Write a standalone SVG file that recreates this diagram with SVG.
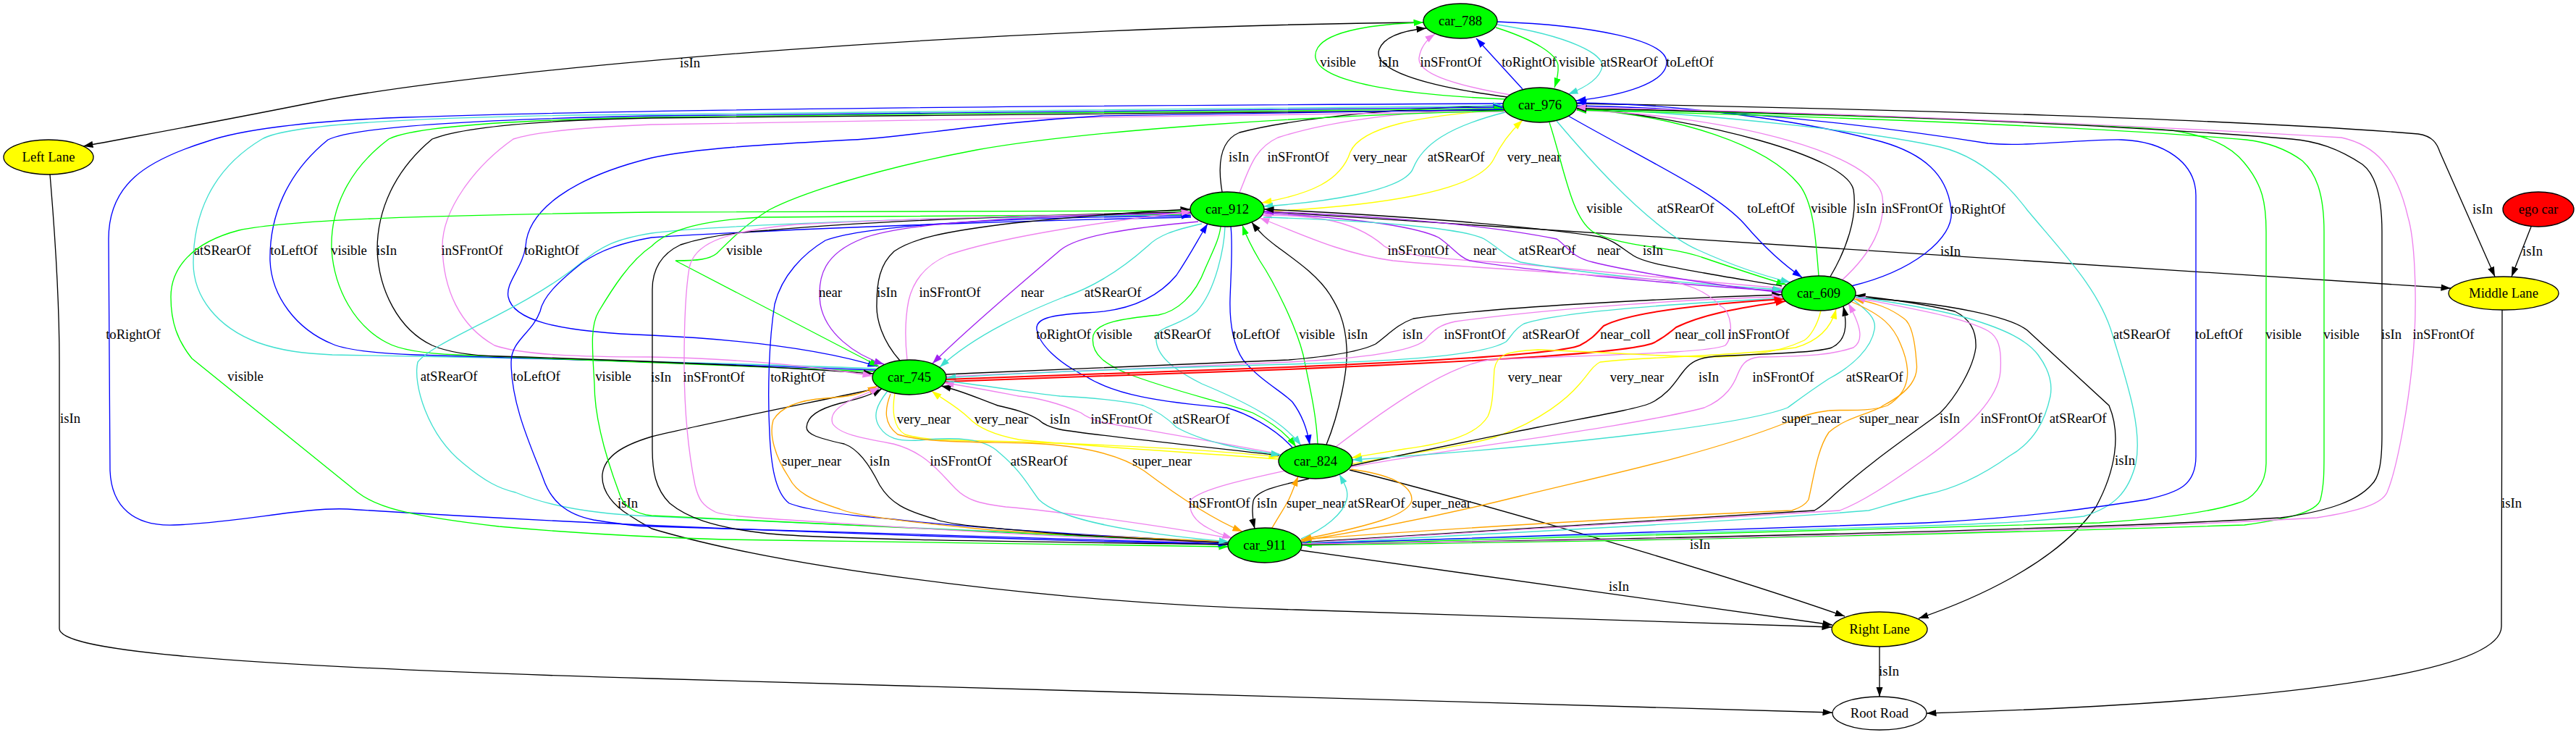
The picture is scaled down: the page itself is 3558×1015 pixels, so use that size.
<svg xmlns="http://www.w3.org/2000/svg" width="3558" height="1015" viewBox="0 0 3558 1015">
<defs>
<style>
.n ellipse{stroke:#000;stroke-width:1.33px}
text{font-family:"Liberation Serif","Times New Roman",serif;font-size:18.67px;text-anchor:middle;fill:#000}
#edges path{fill:none;stroke-width:1.33px}
.k{stroke:#000;marker-end:url(#mk)}
.b{stroke:#0000ff;marker-end:url(#mb)}
.g{stroke:#00ff00;marker-end:url(#mg)}
.c{stroke:#40e0d0;marker-end:url(#mc)}
.v{stroke:#ee82ee;marker-end:url(#mv)}
.y{stroke:#ffff00;marker-end:url(#my)}
.o{stroke:#ffa500;marker-end:url(#mo)}
.r{stroke:#ff0000;marker-end:url(#mr);stroke-width:2px!important}
.p{stroke:#a020f0;marker-end:url(#mp)}
.s{marker-end:none}
</style>
<marker id="mk" viewBox="0 0 14 10" refX="13.5" refY="5" markerWidth="14" markerHeight="10" markerUnits="userSpaceOnUse" orient="auto"><path d="M0,0.3L13.5,5L0,9.7z" fill="#000"/></marker>
<marker id="mb" viewBox="0 0 14 10" refX="13.5" refY="5" markerWidth="14" markerHeight="10" markerUnits="userSpaceOnUse" orient="auto"><path d="M0,0.3L13.5,5L0,9.7z" fill="#0000ff"/></marker>
<marker id="mg" viewBox="0 0 14 10" refX="13.5" refY="5" markerWidth="14" markerHeight="10" markerUnits="userSpaceOnUse" orient="auto"><path d="M0,0.3L13.5,5L0,9.7z" fill="#00ff00"/></marker>
<marker id="mc" viewBox="0 0 14 10" refX="13.5" refY="5" markerWidth="14" markerHeight="10" markerUnits="userSpaceOnUse" orient="auto"><path d="M0,0.3L13.5,5L0,9.7z" fill="#40e0d0"/></marker>
<marker id="mv" viewBox="0 0 14 10" refX="13.5" refY="5" markerWidth="14" markerHeight="10" markerUnits="userSpaceOnUse" orient="auto"><path d="M0,0.3L13.5,5L0,9.7z" fill="#ee82ee"/></marker>
<marker id="my" viewBox="0 0 14 10" refX="13.5" refY="5" markerWidth="14" markerHeight="10" markerUnits="userSpaceOnUse" orient="auto"><path d="M0,0.3L13.5,5L0,9.7z" fill="#ffff00"/></marker>
<marker id="mo" viewBox="0 0 14 10" refX="13.5" refY="5" markerWidth="14" markerHeight="10" markerUnits="userSpaceOnUse" orient="auto"><path d="M0,0.3L13.5,5L0,9.7z" fill="#ffa500"/></marker>
<marker id="mr" viewBox="0 0 14 10" refX="13.5" refY="5" markerWidth="14" markerHeight="10" markerUnits="userSpaceOnUse" orient="auto"><path d="M0,0.3L13.5,5L0,9.7z" fill="#ff0000"/></marker>
<marker id="mp" viewBox="0 0 14 10" refX="13.5" refY="5" markerWidth="14" markerHeight="10" markerUnits="userSpaceOnUse" orient="auto"><path d="M0,0.3L13.5,5L0,9.7z" fill="#a020f0"/></marker>
</defs>
<rect width="3558" height="1015" fill="#fff"/>
<g id="edges">
<!-- lane edges -->
<g><path class="k" d="M1966,31 C1400,36 700,90 440,140 C300,168 200,186 115,202"/><text x="953" y="93">isIn</text></g>
<g><path class="k" d="M69,241 C74,300 82,400 82,500 L82,868 C82,895 250,918 900,937 L2531,984"/><text x="97" y="584">isIn</text></g>
<g><path class="k" d="M2178,143 C2600,150 3100,165 3340,185 C3360,188 3366,198 3370,210 L3446,382"/><text x="3429" y="295">isIn</text></g>
<g><path class="k" d="M3496,313 L3469,382"/><text x="3498" y="353">isIn</text></g>
<g><path class="k" d="M3456,428 L3455,865 C3455,935 3100,972 2661,985"/><text x="3469" y="701">isIn</text></g>
<g><path class="k" d="M2596,893 L2596,962"/><text x="2609" y="933">isIn</text></g>
<g><path class="k" d="M1797,760 L2531,863"/><text x="2236" y="816">isIn</text></g>
<g><path class="k" d="M1864,649 C1950,670 2300,765 2548,851"/><text x="2348" y="758">isIn</text></g>
<g><path class="k" d="M1214,536 C1100,560 950,590 900,603 C860,615 835,630 832,655 C830,680 850,700 870,712 C885,722 895,727 900,730 C1100,790 1500,835 1790,842 L2530,866"/><text x="867" y="701">isIn</text></g>
<g><path class="k" d="M2563,411 C2700,418 2780,440 2800,456 L2913,560 C2930,600 2922,650 2895,700 C2840,780 2720,830 2650,854"/><text x="2935" y="642">isIn</text></g>
<g><path class="k" d="M1746,292 L3385,398"/><text x="2694" y="353">isIn</text></g>
<!-- car_788 / car_976 -->
<g><path class="g" d="M2080,137 C1870,128 1800,100 1820,66 C1835,42 1900,33 1966,31"/><text x="1848" y="92">visible</text></g>
<g><path class="k" d="M2082,134 C1960,118 1895,95 1905,68 C1912,50 1940,42 1970,39"/><text x="1918" y="92">isIn</text></g>
<g><path class="v" d="M2086,131 C2000,116 1958,100 1960,80 C1962,66 1970,55 1982,47"/><text x="2004" y="92">inSFrontOf</text></g>
<g><path class="b" d="M2103,123 L2039,53"/><text x="2112" y="92">toRightOf</text></g>
<g><path class="g" d="M2066,38 C2120,55 2150,75 2152,90 C2153,102 2150,112 2147,121"/><text x="2178" y="92">visible</text></g>
<g><path class="c" d="M2068,34 C2170,50 2215,75 2213,92 C2210,108 2192,120 2166,130"/><text x="2250" y="92">atSRearOf</text></g>
<g><path class="b" d="M2068,30 C2200,35 2300,55 2302,85 C2303,115 2240,132 2177,139"/><text x="2334" y="92">toLeftOf</text></g>
<!-- car_912 / car_976 -->
<g><path class="k" d="M1688,265 C1682,230 1683,195 1712,183 C1800,160 1960,148 2076,146"/><text x="1711" y="223">isIn</text></g>
<g><path class="v" d="M1712,266 C1725,235 1732,205 1765,190 C1850,162 1980,152 2076,148"/><text x="1793" y="223">inSFrontOf</text></g>
<g><path class="y" d="M2078,151 C1960,160 1880,175 1865,210 C1852,250 1810,268 1743,280"/><text x="1906" y="223">very_near</text></g>
<g><path class="c" d="M2079,155 C2000,175 1965,200 1952,232 C1940,265 1820,280 1745,285"/><text x="2011" y="223">atSRearOf</text></g>
<g><path class="y" d="M1746,292 C1900,285 2040,265 2063,220 C2075,195 2088,180 2103,166"/><text x="2119" y="223">very_near</text></g>
<!-- car_976 / car_609 -->
<g><path class="g" d="M2140,169 C2160,230 2170,300 2200,320 C2240,342 2310,340 2350,355 C2400,372 2440,385 2467,393"/><text x="2216" y="294">visible</text></g>
<g><path class="c" d="M2150,167 C2220,250 2290,320 2345,345 C2400,370 2440,382 2473,390"/><text x="2328" y="294">atSRearOf</text></g>
<g><path class="b" d="M2166,160 C2280,225 2370,265 2410,310 C2440,345 2470,370 2489,383"/><text x="2446" y="294">toLeftOf</text></g>
<g><path class="g" d="M2512,381 C2508,330 2505,280 2485,255 C2440,200 2320,160 2178,150"/><text x="2526" y="294">visible</text></g>
<g><path class="k" d="M2528,382 C2550,345 2566,300 2560,262 C2550,215 2350,165 2178,148"/><text x="2578" y="294">isIn</text></g>
<g><path class="v" d="M2544,387 C2585,350 2605,310 2600,272 C2592,215 2400,160 2177,152"/><text x="2641" y="294">inSFrontOf</text></g>
<g><path class="b" d="M2557,395 C2640,375 2700,330 2695,290 C2690,240 2655,212 2600,196 C2480,163 2300,143 2178,142"/><text x="2732" y="295">toRightOf</text></g>
<!-- car_976 / car_745 / car_911 far left -->
<g><path class="b" d="M2076,143 C1500,146 900,150 560,162 C420,167 330,180 287,195 C200,222 150,255 150,330 L152,650 C154,700 185,727 240,725 C330,722 420,700 480,703 C620,712 1000,735 1696,752"/><text x="184" y="468">toRightOf</text></g>
<g><path class="c" d="M1210,509 C1000,501 700,494 459,490 C420,488 390,485 356,473 C300,452 267,410 267,363 C267,300 290,235 362,192 C400,170 600,160 900,158 C1300,154 1800,149 2076,146"/><text x="307" y="352">atSRearOf</text></g>
<g><path class="b" d="M1209,511 C1000,503 750,494 574,490 C520,488 480,484 459,475 C410,455 375,410 373,360 C372,300 395,240 453,193 C490,175 650,165 900,160 C1300,156 1800,151 2076,148"/><text x="406" y="352">toLeftOf</text></g>
<g><path class="g" d="M1207,513 C1000,506 800,495 631,490 C580,488 550,482 534,473 C490,450 462,400 458,345 C456,290 480,235 537,192 C570,175 700,166 900,162 C1300,157 1800,152 2077,150"/><text x="482" y="352">visible</text></g>
<g><path class="k" d="M2078,152 C1800,155 1300,159 900,163 C750,166 640,175 597,192 C545,235 521,290 521,345 C523,400 550,455 597,477 C620,487 650,491 689,492 C900,498 1100,508 1206,516"/><text x="534" y="352">isIn</text></g>
<g><path class="v" d="M2080,154 C1800,158 1200,166 900,172 C800,176 740,182 709,192 C655,230 611,290 611,340 C612,400 635,450 683,477 C720,490 800,493 900,493 C1050,496 1150,510 1205,519"/><text x="652" y="352">inSFrontOf</text></g>
<g><path class="b" d="M2076,151 C1800,154 1600,157 1521,160 C1350,170 1250,190 1177,193 C1050,200 960,205 900,218 C790,245 729,290 726,340 C722,370 698,390 702,410 C708,440 760,458 900,463 C1050,470 1150,487 1212,506"/><text x="762" y="352">toRightOf</text></g>
<g><path class="g" d="M2077,153 C1800,160 1500,180 1349,207 C1200,235 1100,270 1062,290 C1030,310 1010,330 990,350 C980,358 965,360 933,360 L1214,506"/><text x="1028" y="352">visible</text></g>
<!-- car_912 / car_911 far left -->
<g><path class="g" d="M1644,291 C1300,292 1000,292 900,293 C600,297 400,303 330,318 C265,335 236,370 236,410 C236,445 245,470 265,495 L494,680 C520,700 560,712 689,727 C800,737 900,742 1000,745 L1697,755"/><text x="339" y="526">visible</text></g>
<g><path class="c" d="M1645,296 C1450,300 1350,300 1292,302 C1100,308 950,315 900,322 C850,330 830,340 800,365 C720,430 600,470 577,500 C570,530 590,600 640,640 C670,665 690,675 712,680 C760,700 820,710 900,713 L1697,748"/><text x="620" y="526">atSRearOf</text></g>
<g><path class="b" d="M1645,300 C1400,305 1100,315 900,328 C860,335 830,345 804,363 C770,390 750,410 746,430 C735,460 706,470 706,500 C706,560 735,620 750,660 C760,690 780,710 820,718 C860,724 880,727 900,727 L1697,751"/><text x="741" y="526">toLeftOf</text></g>
<g><path class="g" d="M1697,750 L900,712 C880,710 860,700 855,680 C840,640 821,580 821,530 C818,480 815,450 827,430 C845,400 870,360 900,340 C920,320 960,305 1050,300 L1644,296"/><text x="847" y="526">visible</text></g>
<g><path class="k" d="M1697,752 C1400,748 1150,745 1062,737 C980,728 947,713 925,695 C905,675 901,650 901,620 L901,400 C901,370 915,350 940,338 C980,325 1030,320 1062,318 C1200,305 1450,296 1645,293"/><text x="913" y="527">isIn</text></g>
<g><path class="v" d="M1697,750 C1400,740 1200,725 1120,720 C1040,715 1000,712 988,707 C970,698 965,690 960,670 C950,620 945,560 945,500 C945,440 947,400 952,370 C958,340 990,320 1100,310 C1300,300 1500,296 1645,295"/><text x="986" y="527">inSFrontOf</text></g>
<g><path class="b" d="M1697,749 C1500,740 1300,725 1234,717 C1150,710 1110,703 1090,695 C1070,680 1065,640 1063,600 C1060,540 1062,470 1070,420 C1080,380 1110,350 1140,332 C1200,310 1400,300 1645,298"/><text x="1102" y="527">toRightOf</text></g>
<!-- car_912 / car_745 -->
<g><path class="p" d="M1645,294 C1450,298 1250,305 1190,330 C1140,350 1128,380 1133,420 C1140,460 1180,490 1221,503"/><text x="1147" y="410">near</text></g>
<g><path class="k" d="M1243,498 C1218,470 1210,440 1211,420 C1211,390 1215,365 1235,347 C1260,330 1300,320 1400,308 C1500,298 1580,292 1644,289"/><text x="1225" y="410">isIn</text></g>
<g><path class="v" d="M1253,497 C1250,470 1250,440 1255,415 C1262,385 1280,365 1310,352 C1360,335 1450,315 1645,292"/><text x="1312" y="410">inSFrontOf</text></g>
<g><path class="p" d="M1655,306 C1560,315 1490,325 1465,345 C1400,400 1330,460 1288,502"/><text x="1426" y="410">near</text></g>
<g><path class="c" d="M1660,309 C1620,318 1600,325 1585,340 C1540,380 1500,400 1470,410 C1420,430 1350,460 1298,507"/><text x="1537" y="410">atSRearOf</text></g>
<!-- car_912 / car_824 -->
<g><path class="b" d="M1785,618 C1760,590 1720,570 1694,563 C1600,555 1540,545 1500,520 C1460,500 1435,475 1432,455 C1430,440 1450,435 1500,432 C1560,430 1600,410 1625,380 C1645,350 1655,330 1668,309"/><text x="1469" y="468">toRightOf</text></g>
<g><path class="g" d="M1686,313 C1684,330 1676,345 1665,370 C1650,410 1625,430 1600,435 C1550,440 1515,445 1510,463 C1505,490 1530,505 1560,517 C1620,540 1690,555 1730,570 C1760,585 1778,600 1790,617"/><text x="1539" y="468">visible</text></g>
<g><path class="c" d="M1692,313 C1691,340 1680,400 1653,430 C1630,450 1600,450 1597,465 C1595,490 1620,510 1660,530 C1720,555 1770,580 1797,615"/><text x="1633" y="468">atSRearOf</text></g>
<g><path class="b" d="M1700,313 C1703,340 1700,380 1699,413 C1698,450 1705,480 1717,497 C1740,525 1770,540 1785,555 C1800,575 1806,595 1809,614"/><text x="1735" y="468">toLeftOf</text></g>
<g><path class="g" d="M1820,613 C1818,570 1808,530 1800,490 C1790,450 1760,390 1740,360 C1728,340 1722,328 1716,311"/><text x="1819" y="468">visible</text></g>
<g><path class="k" d="M1832,614 C1850,570 1862,510 1860,480 C1858,440 1845,420 1837,407 C1820,380 1790,360 1763,340 C1750,330 1740,322 1729,307"/><text x="1875" y="468">isIn</text></g>
<!-- car_912 / car_609 -->
<g><path class="v" d="M2462,398 C2300,385 2150,368 2067,362 C1990,358 1930,352 1912,340 C1895,325 1870,310 1830,303 C1800,298 1770,297 1743,297"/><text x="1959" y="352">inSFrontOf</text></g>
<g><path class="p" d="M1746,294 C1850,300 1950,310 1987,328 C2005,340 2015,355 2030,360 C2100,372 2300,392 2461,402"/><text x="2051" y="352">near</text></g>
<g><path class="c" d="M1745,300 C1900,305 2020,315 2050,330 C2070,342 2080,355 2100,362 C2200,380 2350,393 2462,400"/><text x="2137" y="352">atSRearOf</text></g>
<g><path class="p" d="M2461,404 C2350,392 2240,372 2200,362 C2170,355 2165,340 2150,330 C2050,310 1900,298 1746,292"/><text x="2222" y="352">near</text></g>
<g><path class="k" d="M2461,395 C2420,388 2380,382 2354,377 C2300,367 2270,362 2256,353 C2240,343 2230,332 2210,327 C2100,310 1900,296 1746,289"/><text x="2283" y="352">isIn</text></g>
<!-- car_745 / car_609 -->
<g><path class="k" d="M1307,517 C1500,508 1700,500 1780,497 C1840,492 1880,485 1900,475 C1920,460 1930,448 1952,440 C2050,425 2300,412 2461,407"/><text x="1951" y="468">isIn</text></g>
<g><path class="v" d="M1307,520 C1500,512 1700,503 1780,500 C1880,495 1950,485 1968,470 C1980,455 1990,448 2010,444 C2150,425 2350,412 2461,410"/><text x="2037" y="468">inSFrontOf</text></g>
<g><path class="c" d="M2461,412 C2300,420 2150,432 2105,447 C2090,455 2088,465 2080,472 C2050,490 1950,498 1780,503 C1600,508 1400,515 1307,522"/><text x="2142" y="468">atSRearOf</text></g>
<g><path class="r" d="M1307,524 C1500,517 1700,510 1780,507 C1950,500 2150,490 2182,477 C2200,468 2205,460 2215,450 C2250,432 2350,420 2464,413"/><text x="2245" y="468">near_coll</text></g>
<g><path class="r" d="M1306,527 C1500,520 1700,513 1780,510 C1950,503 2250,490 2285,473 C2300,465 2305,460 2315,452 C2350,435 2400,425 2466,416"/><text x="2348" y="468">near_coll</text></g>
<g><path class="v" d="M1845,617 C1920,560 2000,505 2056,497 C2200,490 2360,488 2383,477 C2395,465 2392,430 2377,423 C2355,400 2330,392 2297,387 C2150,375 2000,368 1924,360 C1850,350 1790,320 1740,301"/><text x="2429" y="468">inSFrontOf</text></g>
<!-- car_609 / car_824 -->
<g><path class="y" d="M2515,429 C2510,450 2500,465 2492,470 C2450,490 2400,493 2354,493 C2250,490 2150,483 2124,483 C2080,485 2067,490 2064,510 C2062,540 2062,560 2055,575 C2040,600 2000,612 1940,620 C1910,625 1890,628 1867,632"/><text x="2120" y="527">very_near</text></g>
<g><path class="y" d="M1866,641 C1950,625 2030,615 2067,603 C2130,580 2165,550 2182,530 C2195,515 2200,505 2210,500 C2260,493 2400,492 2480,480 C2515,470 2530,450 2536,427"/><text x="2261" y="527">very_near</text></g>
<g><path class="k" d="M1867,643 C1950,625 2050,605 2124,590 C2200,575 2260,565 2279,557 C2305,545 2315,525 2325,513 C2335,500 2345,494 2370,492 C2450,488 2510,487 2530,480 C2550,470 2552,450 2546,423"/><text x="2360" y="527">isIn</text></g>
<g><path class="v" d="M1866,645 C2000,620 2250,590 2354,563 C2385,550 2395,530 2400,517 C2405,505 2410,495 2430,493 C2500,492 2530,490 2560,480 C2575,470 2570,450 2553,419"/><text x="2463" y="527">inSFrontOf</text></g>
<g><path class="c" d="M2560,414 C2580,430 2592,440 2589,455 C2585,480 2560,505 2526,523 C2500,540 2480,555 2469,563 C2400,590 2100,620 1868,635"/><text x="2589" y="527">atSRearOf</text></g>
<!-- car_609 / car_911 -->
<g><path class="o" d="M2558,417 C2600,435 2615,450 2625,475 C2640,510 2640,540 2607,560 C2580,570 2540,565 2526,567 C2500,570 2480,578 2469,583 C2350,630 2200,660 2100,685 C2000,710 1900,730 1797,747"/><text x="2502" y="584">super_near</text></g>
<g><path class="o" d="M1797,745 C2000,730 2300,712 2475,705 C2490,700 2495,695 2498,690 C2505,660 2510,620 2526,597 C2550,575 2590,570 2601,560 C2640,540 2650,520 2647,500 C2645,470 2640,447 2630,440 C2610,425 2590,418 2561,413"/><text x="2609" y="584">super_near</text></g>
<g><path class="k" d="M1798,749 C2100,728 2400,712 2506,705 C2515,700 2520,695 2526,690 C2580,640 2640,600 2680,570 C2700,550 2725,510 2729,480 C2730,455 2720,440 2700,430 C2650,418 2600,412 2563,408"/><text x="2693" y="584">isIn</text></g>
<g><path class="v" d="M1798,750 C2100,730 2450,712 2541,705 C2580,690 2620,660 2660,633 C2720,590 2760,550 2763,513 C2765,480 2760,465 2746,457 C2710,438 2650,428 2563,411"/><text x="2778" y="584">inSFrontOf</text></g>
<g><path class="c" d="M2563,410 C2620,418 2680,428 2720,440 C2770,455 2800,470 2815,490 C2830,510 2835,530 2832,547 C2825,580 2810,610 2775,630 C2740,655 2700,675 2660,683 C2630,690 2600,700 2581,705 C2400,720 2100,735 1798,751"/><text x="2870" y="584">atSRearOf</text></g>
<!-- car_976 / car_911 right side -->
<g><path class="c" d="M2178,149 C2400,160 2600,185 2680,203 C2730,215 2770,250 2800,290 C2850,350 2900,400 2918,463 C2935,520 2960,590 2950,640 C2940,680 2920,700 2878,713 C2800,722 2700,725 2600,728 L1798,750"/><text x="2958" y="468">atSRearOf</text></g>
<g><path class="b" d="M2178,146 C2400,150 2600,175 2746,198 C2800,203 2880,192 2930,193 C2990,195 3033,225 3033,270 L3033,630 C3033,670 3010,680 2964,690 C2900,700 2800,715 2660,722 L1798,751"/><text x="3065" y="468">toLeftOf</text></g>
<g><path class="g" d="M2178,150 C2500,158 2900,170 3000,180 C3050,188 3080,200 3100,225 C3125,255 3130,280 3130,320 L3130,640 C3130,670 3110,690 3090,695 C3060,705 3000,715 2900,722 C2700,728 2400,738 1798,752"/><text x="3154" y="468">visible</text></g>
<g><path class="g" d="M1798,753 C2400,745 2800,735 3100,725 C3159,717 3200,707 3205,690 C3210,670 3210,650 3210,630 L3210,320 C3210,270 3200,240 3180,222 C3150,200 3120,195 3102,193 C2900,175 2500,160 2178,152"/><text x="3234" y="468">visible</text></g>
<g><path class="k" d="M1798,752 C2400,742 2900,730 3150,715 C3222,705 3257,690 3275,670 C3286,660 3290,640 3290,600 L3290,320 C3290,270 3280,240 3263,227 C3230,205 3200,195 3165,192 C2900,170 2500,155 2178,150"/><text x="3303" y="468">isIn</text></g>
<g><path class="v" d="M1798,751 C2400,745 2900,732 3200,715 C3263,705 3290,695 3297,680 C3310,650 3330,550 3335,462 C3338,400 3335,330 3326,300 C3310,230 3280,200 3234,190 C2900,170 2500,155 2177,148"/><text x="3375" y="468">inSFrontOf</text></g>
<!-- car_745 / car_824 -->
<g><path class="y" d="M1236,543 C1232,565 1233,590 1250,600 C1280,610 1350,608 1407,610 C1550,615 1680,622 1766,631"/><text x="1276" y="585">very_near</text></g>
<g><path class="y" d="M1767,634 C1650,625 1480,615 1407,607 C1370,600 1350,590 1338,577 C1320,560 1300,550 1287,540"/><text x="1383" y="585">very_near</text></g>
<g><path class="k" d="M1767,629 C1650,615 1500,600 1464,593 C1450,590 1440,585 1435,580 C1420,570 1400,565 1378,560 C1350,550 1330,540 1300,533"/><text x="1464" y="585">isIn</text></g>
<g><path class="v" d="M1767,627 C1680,610 1560,590 1521,583 C1505,578 1498,574 1493,570 C1470,560 1440,550 1407,547 C1370,540 1330,532 1304,529"/><text x="1549" y="585">inSFrontOf</text></g>
<g><path class="c" d="M1306,526 C1380,535 1440,545 1464,547 C1520,550 1560,555 1579,560 C1600,568 1615,580 1625,590 C1660,610 1720,622 1769,628"/><text x="1659" y="585">atSRearOf</text></g>
<!-- car_745 / car_911 -->
<g><path class="o" d="M1697,748 C1500,740 1400,735 1349,730 C1250,720 1180,712 1160,703 C1120,690 1100,680 1090,660 C1070,630 1062,600 1068,580 C1080,560 1110,552 1140,550 C1170,548 1190,545 1212,533"/><text x="1121" y="643">super_near</text></g>
<g><path class="k" d="M1697,750 C1600,745 1500,740 1464,737 C1380,730 1310,725 1292,717 C1250,705 1230,695 1215,670 C1200,640 1185,620 1166,613 C1130,605 1114,600 1114,590 C1115,575 1130,565 1160,557 C1180,552 1200,547 1218,537"/><text x="1215" y="643">isIn</text></g>
<g><path class="v" d="M1697,743 C1600,725 1450,705 1389,700 C1350,695 1335,690 1320,675 C1300,655 1280,625 1234,613 C1190,605 1160,600 1150,585 C1145,570 1160,560 1180,550 C1195,544 1205,540 1215,535"/><text x="1327" y="643">inSFrontOf</text></g>
<g><path class="c" d="M1226,540 C1210,560 1205,575 1215,590 C1225,605 1240,610 1270,608 C1320,603 1360,605 1380,625 C1410,650 1420,670 1435,690 C1460,715 1550,735 1697,748"/><text x="1435" y="643">atSRearOf</text></g>
<g><path class="o" d="M1230,544 C1222,565 1220,585 1240,600 C1280,612 1350,610 1420,612 C1500,615 1550,630 1580,650 C1620,680 1670,715 1716,734"/><text x="1605" y="643">super_near</text></g>
<!-- car_824 / car_911 -->
<g><path class="v" d="M1775,650 C1720,662 1660,675 1645,690 C1640,705 1650,720 1670,730 C1685,738 1695,741 1702,743"/><text x="1684" y="701">inSFrontOf</text></g>
<g><path class="k" d="M1808,661 C1780,668 1735,675 1731,692 C1729,705 1730,718 1733,730"/><text x="1750" y="701">isIn</text></g>
<g><path class="o" d="M1757,729 C1765,715 1775,700 1780,690 C1785,680 1788,670 1793,658"/><text x="1818" y="701">super_near</text></g>
<g><path class="c" d="M1797,744 C1830,730 1855,710 1860,690 C1863,678 1858,670 1850,655"/><text x="1901" y="701">atSRearOf</text></g>
<g><path class="o" d="M1866,648 C1920,655 1950,670 1950,690 C1948,710 1900,725 1798,745"/><text x="1991" y="701">super_near</text></g>
</g>
<g id="nodes">
<g id="car_788" class="n"><ellipse cx="2017" cy="29" rx="51" ry="24" fill="#00ff00"/><text x="2017" y="35">car_788</text></g>
<g id="car_976" class="n"><ellipse cx="2127" cy="145" rx="51" ry="24" fill="#00ff00"/><text x="2127" y="151">car_976</text></g>
<g id="car_912" class="n"><ellipse cx="1695" cy="289" rx="51" ry="24" fill="#00ff00"/><text x="1695" y="295">car_912</text></g>
<g id="car_609" class="n"><ellipse cx="2512" cy="405" rx="51" ry="24" fill="#00ff00"/><text x="2512" y="411">car_609</text></g>
<g id="car_745" class="n"><ellipse cx="1256" cy="521" rx="51" ry="24" fill="#00ff00"/><text x="1256" y="527">car_745</text></g>
<g id="car_824" class="n"><ellipse cx="1817" cy="637" rx="51" ry="24" fill="#00ff00"/><text x="1817" y="643">car_824</text></g>
<g id="car_911" class="n"><ellipse cx="1747" cy="753" rx="51" ry="24" fill="#00ff00"/><text x="1747" y="759">car_911</text></g>
<g id="ego_car" class="n"><ellipse cx="3506" cy="289" rx="49" ry="24" fill="#ff0000"/><text x="3506" y="295">ego car</text></g>
<g id="left_lane" class="n"><ellipse cx="67" cy="217" rx="62" ry="24" fill="#ffff00"/><text x="67" y="223">Left Lane</text></g>
<g id="middle_lane" class="n"><ellipse cx="3458" cy="405" rx="76" ry="23" fill="#ffff00"/><text x="3458" y="411">Middle Lane</text></g>
<g id="right_lane" class="n"><ellipse cx="2596" cy="869" rx="66" ry="24" fill="#ffff00"/><text x="2596" y="875">Right Lane</text></g>
<g id="root_road" class="n"><ellipse cx="2596" cy="985" rx="65" ry="23" fill="#ffffff"/><text x="2596" y="991">Root Road</text></g>
</g>
</svg>
